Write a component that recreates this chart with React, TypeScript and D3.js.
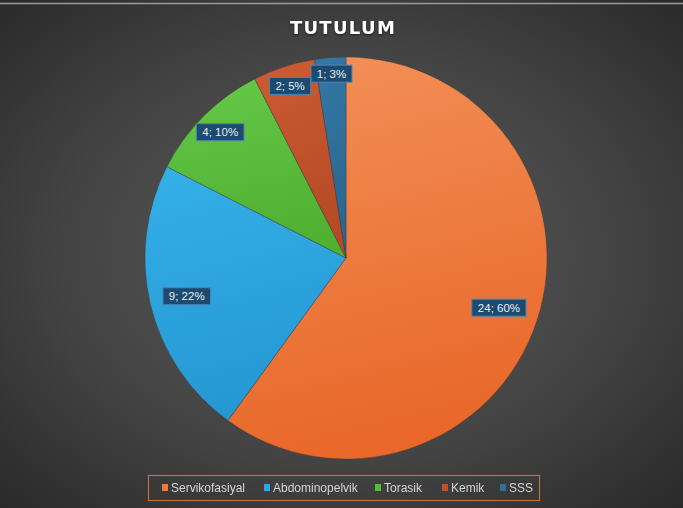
import React from "react";
import * as d3 from "d3";

const categories = ["Servikofasiyal", "Abdominopelvik", "Torasik", "Kemik", "SSS"];
const values = [24, 9, 4, 2, 1];
const percentLabels = ["60%", "22%", "10%", "5%", "3%"];
const title = "TUTULUM";

const colorsTop = ["#f39159", "#35b0e8", "#66c848", "#cc5c33", "#3579a6"];
const colorsBottom = ["#e9682a", "#2598d3", "#4fb032", "#b54a25", "#2a6690"];
const legendColors = ["#ee7a3c", "#2ba6df", "#56bb3a", "#c0502a", "#2f6f9a"];
const labelRadiusFactor = [0.8, 0.815, 0.885, 0.9, 0.92];

const W = 683;
const H = 508;
const cx = 346;
const cy = 258;
const R = 201;

export default function App() {
  const pie = d3.pie<number>().value((d) => d).sort(null);
  const arcs = pie(values);
  const arcGen = d3.arc<d3.PieArcDatum<number>>().innerRadius(0).outerRadius(R);

  const legendX = [165, 267, 378, 445, 503];

  return (
    <svg
      width={W}
      height={H}
      style={{ position: "fixed", left: 0, top: 0, display: "block" }}
      fontFamily="'Liberation Sans', Arial, sans-serif"
    >
      <defs>
        <radialGradient id="bg" cx="50%" cy="50%" r="75%">
          <stop offset="0%" stopColor="#5c5c5c" />
          <stop offset="55%" stopColor="#434343" />
          <stop offset="100%" stopColor="#262626" />
        </radialGradient>
        {categories.map((c, i) => (
          <linearGradient key={c} id={`g${i}`} x1="0" y1="0" x2="0.2" y2="1">
            <stop offset="0%" stopColor={colorsTop[i]} />
            <stop offset="100%" stopColor={colorsBottom[i]} />
          </linearGradient>
        ))}
      </defs>
      <rect x={0} y={0} width={W} height={H} fill="url(#bg)" />
      <line x1={0} x2={W} y1={3.5} y2={3.5} stroke="#9a9a9a" strokeWidth={1.5} />
      <text
        x={343}
        y={34}
        textAnchor="middle"
        fill="#ffffff"
        fontFamily="'DejaVu Sans', sans-serif"
        fontWeight="bold"
        fontSize={18}
        letterSpacing={1.3}
        style={{ filter: "drop-shadow(0px 1px 1px rgba(0,0,0,0.6))" }}
      >
        {title}
      </text>
      <g transform={`translate(${cx},${cy})`}>
        {arcs.map((a, i) => (
          <path key={i} d={arcGen(a) || ""} fill={`url(#g${i})`} stroke="#3a3a3a" strokeWidth={0.4} />
        ))}
        {arcs.map((a, i) => {
          const mid = (a.startAngle + a.endAngle) / 2;
          const r = R * labelRadiusFactor[i];
          const x = Math.sin(mid) * r;
          const y = -Math.cos(mid) * r;
          const label = `${values[i]}; ${percentLabels[i]}`;
          const w = label.length * 6.6 + 8;
          return (
            <g key={`l${i}`} transform={`translate(${x},${y})`}>
              <rect
                x={-w / 2}
                y={-8.5}
                width={w}
                height={17}
                fill="#1d4a70"
                stroke="#4f86b0"
                strokeWidth={1}
              />
              <text
                x={0}
                y={4.2}
                textAnchor="middle"
                fill="#e8eef4"
                fontSize={11.5}
              >
                {label}
              </text>
            </g>
          );
        })}
      </g>
      <rect x={148.5} y={475.5} width={391} height={25} fill="none" stroke="#c0703e" strokeWidth={1.2} />
      {categories.map((c, i) => (
        <g key={`lg${i}`}>
          <rect x={legendX[i] - 3} y={484} width={6} height={7} fill={legendColors[i]} />
          <text x={legendX[i] + 6} y={492} fill="#d6d6d6" fontSize={12}>
            {c}
          </text>
        </g>
      ))}
    </svg>
  );
}
